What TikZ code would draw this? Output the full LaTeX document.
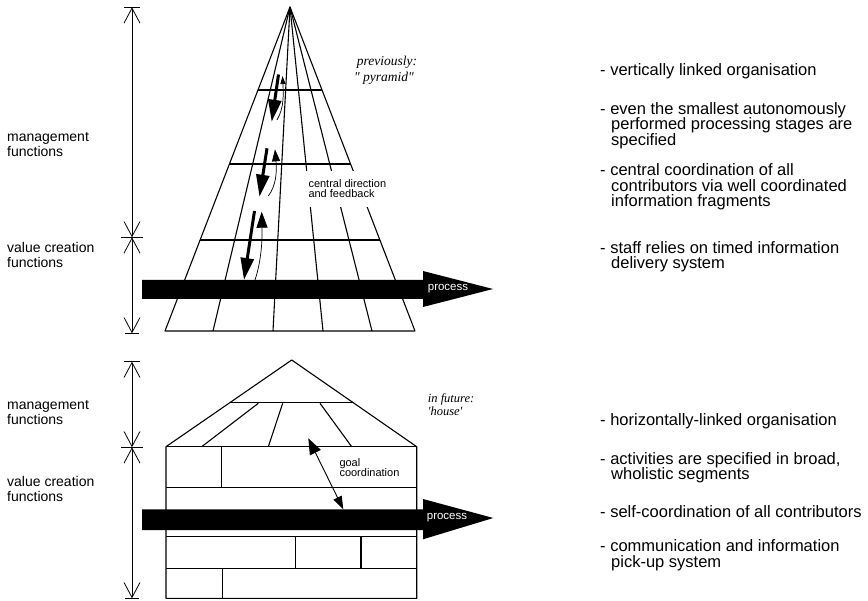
\documentclass[tikz,border=0pt]{standalone}
\usepackage{fontspec}
\setmainfont{Liberation Sans}
\newfontfamily\captionfont{Liberation Serif}
\usetikzlibrary{arrows.meta,calc}
\newcommand{\ind}{\hspace*{11pt}}
\begin{document}
\begin{tikzpicture}[x=1pt,y=-1pt,line join=round,
  edgeline/.style={line width=1.1pt},
  dimline/.style={line width=0.8pt},
  dimarrow/.style={dimline,{Straight Barb[length=15pt,width=16pt]}-{Straight Barb[length=15pt,width=16pt]}},
  sidelabel/.style={font=\fontsize{14}{15}\selectfont,align=left,anchor=base west,inner sep=0pt},
  notetext/.style={font=\fontsize{16.5}{15.8}\selectfont,align=left,anchor=base west,inner sep=0pt},
  smalltext/.style={font=\fontsize{11}{10.8}\selectfont,align=left,anchor=base west},
  captiontext/.style={font=\captionfont\itshape\fontsize{13.5}{16.4}\selectfont,align=left,anchor=base west,inner sep=0pt},
  processbar/.style={fill=black,draw=none},
  processtext/.style={font=\fontsize{11.5}{12}\selectfont,text=white,inner sep=0pt},
  directarrow/.style={line width=3pt,-{Triangle[length=22pt,width=13pt]}},
  feedline/.style={line width=0.7pt},
]
\useasboundingbox (0,0) rectangle (868,601);

% ---------- dimension lines on the left ----------
\coordinate (dA1) at (132,7.3);
\coordinate (dA2) at (132,237.3);
\coordinate (dA3) at (132,333.3);
\coordinate (dB1) at (132,361.7);
\coordinate (dB2) at (132,447.3);
\coordinate (dB3) at (132,598.3);
\draw[dimarrow] (dA1) -- (dA2);
\draw[dimarrow] (dA2) -- (dA3);
\draw[dimarrow] (dB1) -- (dB2);
\draw[dimarrow] (dB2) -- (dB3);
\foreach \c/\w in {dA1/8,dA2/11,dA3/7,dB1/8,dB2/11,dB3/7}
  \draw[dimline] ([xshift=-\w pt]\c) -- ([xshift=\w pt]\c);

% (base anchor of a multi-line node = baseline of its last line)
\node[sidelabel] (mgmtA) at (7,156.5) {management\\functions};
\node[sidelabel] (valA)  at (7,267.5) {value creation\\functions};
\node[sidelabel] (mgmtB) at (7,424.3) {management\\functions};
\node[sidelabel] (valB)  at (7,501)   {value creation\\functions};

% ---------- pyramid ----------
\coordinate (apex) at (290,7);
\coordinate (b0) at (165,331);
\coordinate (b1) at (213,331);
\coordinate (b2) at (273,331);
\coordinate (b3) at (323,331);
\coordinate (b4) at (372,331);
\coordinate (b5) at (415,331);
\draw[edgeline] (b0) -- (apex) -- (b5) -- cycle;
\foreach \b in {b1,b2,b3,b4}
  \draw[edgeline] (apex) -- (\b);
\foreach \t in {0.2562,0.4846,0.7191}
  \draw[edgeline] ($(apex)!\t!(b0)$) -- ($(apex)!\t!(b5)$);

\node[smalltext,fill=white,inner xsep=3pt,inner ysep=8.5pt] (central) at (305.3,198)
  {central direction\\and feedback};

% direction (down) and feedback (up) arrows
\coordinate (d1s) at (278.5,74.5);  \coordinate (d1e) at (271.7,121.7);
\coordinate (d2s) at (267,148.3);   \coordinate (d2e) at (259.5,196.7);
\coordinate (d3s) at (254.5,211);   \coordinate (d3e) at (244,280);
\draw[directarrow] (d1s) -- (d1e);
\draw[directarrow] (d2s) -- (d2e);
\draw[directarrow] (d3s) -- (d3e);

\coordinate (f1s) at (277,120);     \coordinate (f1e) at (282.5,76);
\coordinate (f2s) at (268.3,196);   \coordinate (f2e) at (275,149.3);
\coordinate (f3s) at (255,280);     \coordinate (f3e) at (261.7,211.7);
\draw[feedline,-{Triangle[length=8pt,width=5pt]}] (f1s) .. controls (284,108) and (283.5,95) .. (f1e);
\draw[feedline,-{Triangle[length=12pt,width=8pt]}] (f2s) .. controls (276,186) and (277,172) .. (f2e);
\draw[feedline,-{Triangle[length=16pt,width=11pt]}] (f3s) .. controls (259,268) and (262.5,250) .. (f3e);

% process arrow through the pyramid
\fill[processbar] (142,280) -- (423,280) -- (423,271) -- (493,289) -- (423,307)
  -- (423,299) -- (142,299) -- cycle;
\node[processtext] (procA) at (448,289) {process};

\node[captiontext] (prev) at (354,81.7) {\hspace*{2.7pt}previously:\\" pyramid"};

% ---------- house ----------
\coordinate (roof) at (291.7,360);
\coordinate (eaveL) at (166,446.7);
\coordinate (eaveR) at (416.7,446.7);
\coordinate (footL) at (166,598.3);
\coordinate (footR) at (416.7,598.3);
\draw[edgeline] (eaveL) -- (roof) -- (eaveR) -- (footR) -- (footL) -- cycle;
\draw[edgeline] (eaveL) -- (eaveR);
\draw[edgeline] ($(roof)!0.4925!(eaveL)$) -- ($(roof)!0.4925!(eaveR)$);
\draw[edgeline] (258.3,403.3) -- (201.7,446.7);
\draw[edgeline] (282.7,403.3) -- (268.3,446.7);
\draw[edgeline] (320,403.3) -- (351.7,446.7);
\foreach \y in {487.7,536.7,568.3}
  \draw[edgeline] (166,\y) -- (416.7,\y);
\draw[edgeline] (221.7,446.7) -- (221.7,487.7);
\draw[edgeline] (295.7,536.7) -- (295.7,568.3);
\draw[edgeline] (361,536.7) -- (361,568.3);
\draw[edgeline] (222.7,568.3) -- (222.7,598.3);

% process arrow through the house
\fill[processbar] (142,509.3) -- (423,509.3) -- (423,499) -- (493.3,518) -- (423,539.3)
  -- (423,530) -- (142,530) -- cycle;
\node[processtext] (procB) at (447,517.5) {process};

% goal coordination
\coordinate (g1) at (308.3,438.3);
\coordinate (g2) at (343.3,509.3);
\draw[line width=0.9pt,{Triangle[length=16pt,width=12pt]}-{Triangle[length=13pt,width=9pt]}] (g1) -- (g2);
\node[smalltext,inner sep=0pt] (goal) at (339.3,477) {goal\\coordination};

\node[captiontext,font=\captionfont\itshape\fontsize{12.5}{13.5}\selectfont] (fut) at (427.7,416) {in future:\\'house'};

% ---------- notes on the right ----------
\node[notetext] (n1) at (600,76)    {- vertically linked organisation};
\node[notetext] (n2) at (600,145.7) {- even the smallest autonomously\\\ind performed processing stages are\\\ind specified};
\node[notetext] (n3) at (600,207)   {- central coordination of all\\\ind contributors via well coordinated\\\ind information fragments};
\node[notetext] (n4) at (600,269)   {- staff relies on timed information\\\ind delivery system};
\node[notetext] (n5) at (600,425.7) {- horizontally-linked organisation};
\node[notetext] (n6) at (600,480)   {- activities are specified in broad,\\\ind wholistic segments};
\node[notetext] (n7) at (600,517.3) {- self-coordination of all contributors};
\node[notetext] (n8) at (600,567.3) {- communication and information\\\ind pick-up system};
\end{tikzpicture}
\end{document}
